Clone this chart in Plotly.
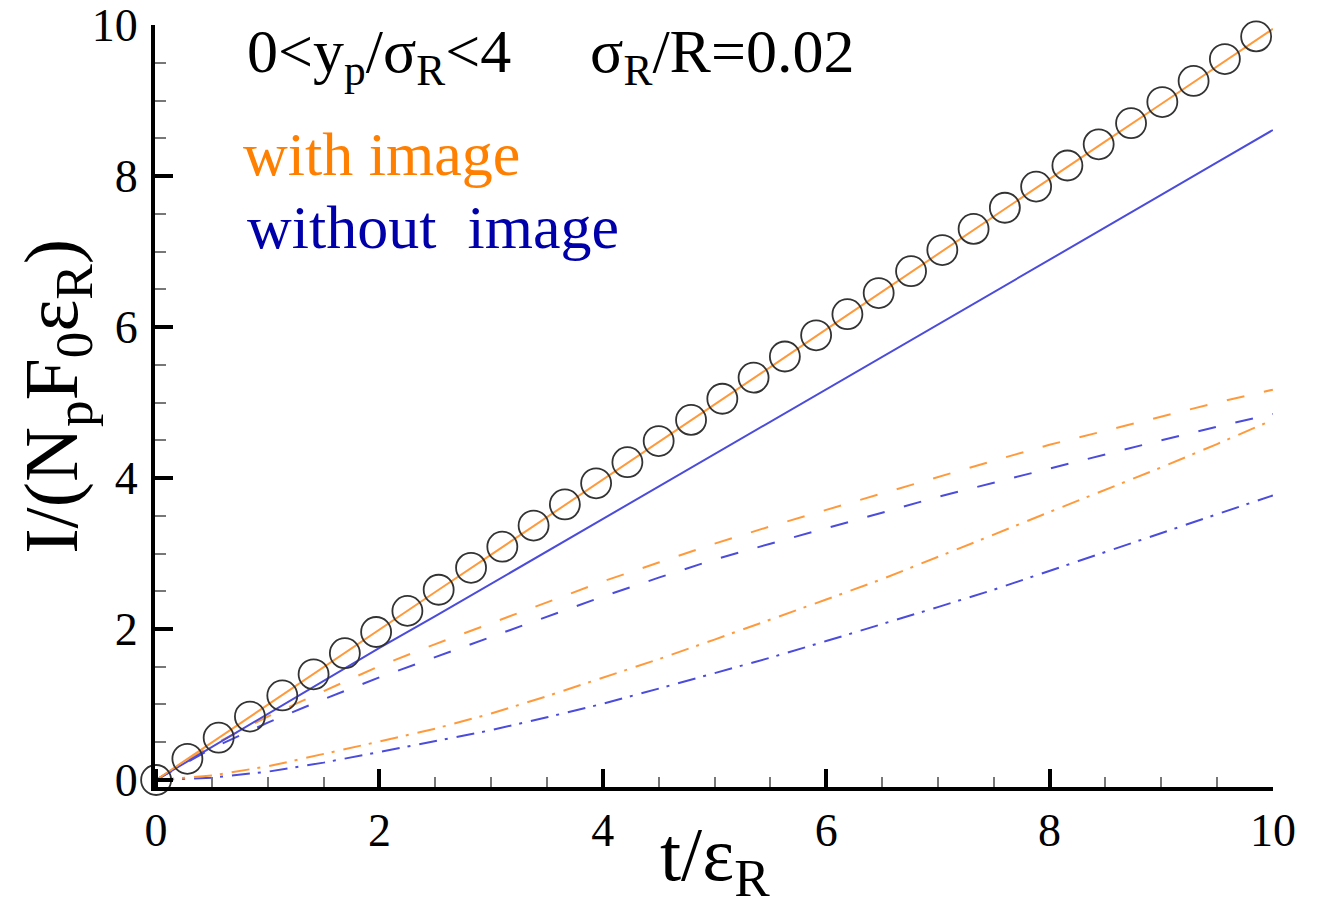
import plotly.graph_objects as go

# ---- data ----
t_grid = [0, 0.5, 1, 1.5, 2, 2.5, 3, 3.5, 4, 4.5, 5, 5.5, 6, 6.5, 7, 7.5, 8, 8.5, 9, 9.5, 10]

with_solid = [0, 0.50, 0.995, 1.49, 1.99, 2.49, 2.985, 3.48, 3.98, 4.48, 4.975,
              5.47, 5.97, 6.47, 6.965, 7.46, 7.96, 8.46, 8.955, 9.45, 9.95]
without_solid = [0, 0.44, 0.87, 1.31, 1.75, 2.17, 2.60, 3.03, 3.45, 3.88, 4.31,
                 4.74, 5.17, 5.60, 6.03, 6.46, 6.89, 7.32, 7.75, 8.18, 8.61]
with_dashed = [0, 0.46, 0.84, 1.18, 1.51, 1.80, 2.08, 2.36, 2.63, 2.88, 3.13,
               3.36, 3.58, 3.80, 4.02, 4.23, 4.44, 4.63, 4.82, 5.00, 5.17]
without_dashed = [0, 0.42, 0.76, 1.07, 1.36, 1.63, 1.90, 2.17, 2.43, 2.68, 2.92,
                  3.13, 3.33, 3.54, 3.75, 3.94, 4.13, 4.32, 4.50, 4.68, 4.85]
with_dashdot = [0, 0.06, 0.18, 0.34, 0.51, 0.68, 0.88, 1.11, 1.35, 1.60, 1.86,
                2.12, 2.39, 2.66, 2.95, 3.25, 3.55, 3.84, 4.14, 4.45, 4.77]
without_dashdot = [0, 0.03, 0.11, 0.23, 0.37, 0.51, 0.66, 0.83, 1.01, 1.21, 1.41,
                   1.62, 1.84, 2.06, 2.29, 2.52, 2.77, 3.01, 3.26, 3.51, 3.77]

t_circles = [0.00, 0.28, 0.56, 0.84, 1.13, 1.41, 1.69, 1.97, 2.25, 2.53, 2.82, 3.10,
             3.38, 3.66, 3.94, 4.22, 4.50, 4.79, 5.07, 5.35, 5.63, 5.91, 6.19, 6.47,
             6.76, 7.04, 7.32, 7.60, 7.88, 8.16, 8.44, 8.73, 9.01, 9.29, 9.57, 9.85]
y_circles = [0.00, 0.28, 0.56, 0.84, 1.12, 1.40, 1.68, 1.96, 2.24, 2.52, 2.81, 3.09,
             3.37, 3.65, 3.93, 4.21, 4.49, 4.77, 5.05, 5.33, 5.61, 5.89, 6.17, 6.45,
             6.74, 7.02, 7.30, 7.58, 7.86, 8.14, 8.42, 8.70, 8.98, 9.26, 9.55, 9.85]

x_ticks = [0, 2, 4, 6, 8, 10]
y_ticks = [0, 2, 4, 6, 8, 10]

ORANGE_LINE = "#FF9A3C"
BLUE_LINE = "#4B4BDC"
ORANGE_TEXT = "#FF7F00"
BLUE_TEXT = "#0000AA"
FONT = "Liberation Serif, Times New Roman, serif"

DASH = "18px,20px"
DASHDOT = "18px,8px,3px,9px"

fig = go.Figure()

def add_line(y, color, dash):
    fig.add_trace(go.Scatter(x=t_grid, y=y, mode="lines",
                             line=dict(color=color, width=2, dash=dash),
                             showlegend=False, hoverinfo="skip"))

add_line(without_dashdot, BLUE_LINE, DASHDOT)
add_line(with_dashdot, ORANGE_LINE, DASHDOT)
add_line(without_dashed, BLUE_LINE, DASH)
add_line(with_dashed, ORANGE_LINE, DASH)
add_line(without_solid, BLUE_LINE, "solid")
add_line(with_solid, ORANGE_LINE, "solid")

fig.add_trace(go.Scatter(x=t_circles, y=y_circles, mode="markers",
                         marker=dict(symbol="circle-open", size=30,
                                     color="#333333", line=dict(width=1.8, color="#333333")),
                         cliponaxis=False, showlegend=False, hoverinfo="skip"))

axis_common = dict(
    showgrid=False, zeroline=False, showline=True, linecolor="black", linewidth=4,
    ticks="inside", ticklen=18, tickwidth=4, tickcolor="black",
    tickfont=dict(family=FONT, size=46, color="black"),
    mirror=False, automargin=False, ticklabeloverflow="allow",
)

fig.update_xaxes(range=[-0.01, 10.001], tickvals=x_ticks, ticktext=[str(v) for v in x_ticks],
                 minor=dict(dtick=0.5, tick0=0, ticks="inside", ticklen=10, tickwidth=1.5,
                            tickcolor="#777777"),
                 ticklabelstandoff=0, **axis_common)
fig.update_yaxes(range=[-0.093, 10.001], tickvals=y_ticks, ticktext=[str(v) for v in y_ticks],
                 minor=dict(dtick=0.5, tick0=0, ticks="inside", ticklen=11, tickwidth=1.5,
                            tickcolor="#777777"),
                 ticklabelstandoff=4, **axis_common)

annotations = [
    dict(text="0&lt;y<sub>p</sub>/σ<sub>R</sub>&lt;4", x=0.80, y=9.6,
         font=dict(family=FONT, size=62, color="black")),
    dict(text="σ<sub>R</sub>/R=0.02", x=3.87, y=9.6,
         font=dict(family=FONT, size=62, color="black")),
    dict(text="with image", x=0.76, y=8.29,
         font=dict(family=FONT, size=62, color=ORANGE_TEXT)),
    dict(text="without  image", x=0.80, y=7.33,
         font=dict(family=FONT, size=62, color=BLUE_TEXT)),
]
for a in annotations:
    fig.add_annotation(xref="x", yref="y", xanchor="left", yanchor="middle",
                       showarrow=False, **a)

# axis titles
fig.add_annotation(xref="paper", yref="paper", x=-0.088, y=0.513, xanchor="center", yanchor="middle",
                   text="I/(N<sub>p</sub>F<sub>0</sub>ε<sub>R</sub>)", textangle=-90, showarrow=False,
                   font=dict(family=FONT, size=76, color="black"))
fig.add_annotation(xref="paper", yref="paper", x=0.501, y=-0.096, xanchor="center", yanchor="middle",
                   text="t/ε<sub>R</sub>", showarrow=False,
                   font=dict(family=FONT, size=76, color="black"))

# the page body adds an 8px offset, so margins are reduced by 8px on top/left
fig.update_layout(
    width=1319, height=901,
    margin=dict(l=147, r=54, t=17, b=122),
    plot_bgcolor="white", paper_bgcolor="white",
    showlegend=False,
)

fig.write_html("out.html")
